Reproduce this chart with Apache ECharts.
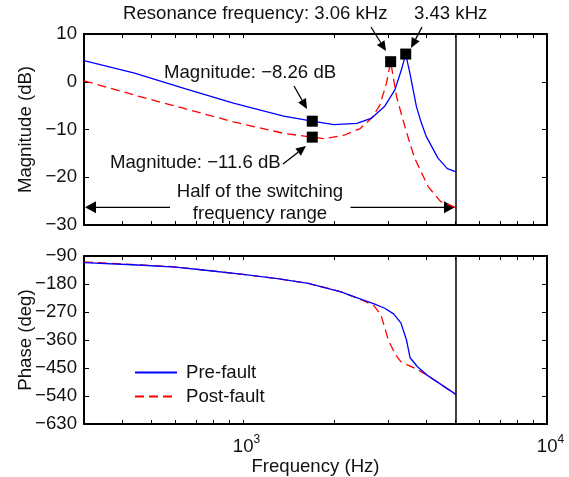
<!DOCTYPE html>
<html>
<head>
<meta charset="utf-8">
<script src="https://cdn.jsdelivr.net/npm/echarts@6/dist/echarts.min.js"></script>
<style>
html,body{margin:0;padding:0;background:#fff;}
#chart{width:569px;height:477px;}
</style>
</head>
<body>
<div id="chart"></div>
<script>
// ---------- data ----------
const freqPreMag  = [300, 440, 640, 930, 1360, 1690, 1990, 2370, 2650, 2920, 3160, 3320, 3430, 3540, 3720, 3860, 4010, 4380, 4700, 5000];
const magPre      = [4.4, 1.8, -1.4, -4.5, -7.2, -8.26, -9.0, -8.7, -7.6, -5.2, -1.7, 2.5, 5.8, 1.8, -5.2, -8.6, -11.5, -16.0, -18.2, -18.8];
const freqPostMag = [300, 440, 640, 930, 1360, 1690, 1850, 2150, 2430, 2650, 2820, 2965, 3060, 3200, 3360, 3540, 3670, 4070, 4470, 5000];
const magPost     = [0.2, -2.8, -5.6, -8.4, -10.8, -11.6, -11.9, -11.2, -9.8, -7.6, -4.9, -0.3, 4.2, -3.1, -8.0, -12.9, -16.0, -22.0, -25.1, -26.3];

const freqPrePhase  = [300, 450, 600, 740, 1000, 1300, 1640, 2100, 2480, 2700, 2925, 3130, 3310, 3450, 3545, 3750, 4020, 5000];
const phasePre      = [-111, -119, -126, -135, -149, -163, -178, -205, -231, -244, -258, -276, -306, -360, -417, -446, -472, -534];
const freqPostPhase = [300, 450, 600, 740, 1000, 1300, 1640, 2100, 2480, 2700, 2845, 3006, 3178, 3310, 3750, 4020, 5000];
const phasePost     = [-109, -118, -125, -135, -149, -163, -178, -205, -233, -250, -280, -360, -408, -430, -455, -472, -534];

const markerFreq = [1690, 1690, 3060, 3430];
const markerMag  = [-8.26, -11.6, 4.2, 5.8];

const seriesNames = ['Pre-fault', 'Post-fault'];
const xTickValues  = [400, 500, 600, 700, 800, 900, 1000, 2000, 3000, 4000, 5000, 6000, 7000, 8000, 9000, 10000];
const xLabelValues = [1000, 10000];
const halfSwitchFreq = 5000;

// ---------- helpers ----------
const FONT = '"Liberation Sans", Arial, Helvetica, sans-serif';
const FS = 18.6;
const TXT = '#111';
const pairs = (xs, ys) => xs.map((x, i) => [x, ys[i]]);
const minus = v => String(v).replace('-', '\u2212');

function arrow(x1, y1, x2, y2, L, W) {
  L = L || 10; W = W || 4.5;
  const dx = x2 - x1, dy = y2 - y1, len = Math.hypot(dx, dy);
  const ux = dx / len, uy = dy / len;
  const bx = x2 - ux * L, by = y2 - uy * L;
  const px = -uy, py = ux;
  return [
    {type: 'line', silent: true, shape: {x1: x1, y1: y1, x2: bx, y2: by}, style: {stroke: '#000', lineWidth: 1.3}},
    {type: 'polygon', silent: true, shape: {points: [[x2, y2], [bx + px * W, by + py * W], [bx - px * W, by - py * W]]}, style: {fill: '#000'}}
  ];
}
function txt(s, x, y, align) {
  return {type: 'text', silent: true, style: {text: s, x: x, y: y, fontSize: FS, fontFamily: FONT, fill: TXT, align: align || 'left', verticalAlign: 'middle'}};
}

const grids = [
  {left: 84, right: 22, top: 34, height: 191},
  {left: 84, right: 22, top: 256, height: 168}
];

function xAx(gridIndex, position, showLabels) {
  return {
    type: 'log', logBase: 10, gridIndex: gridIndex, position: position,
    min: 300, max: 10000,
    axisLine: {show: true, onZero: false, lineStyle: {color: '#000', width: 2}},
    axisTick: {show: true, inside: true, length: 4, customValues: xTickValues, lineStyle: {color: '#000', width: 1}},
    axisLabel: {
      show: showLabels, customValues: xLabelValues, margin: 10,
      formatter: v => '{b|10}{s|' + Math.round(Math.log10(v)) + '}',
      rich: {
        b: {fontSize: FS, fontFamily: FONT, color: TXT, lineHeight: 22, verticalAlign: 'bottom', padding: [0, 0, 0, 7]},
        s: {fontSize: 12, fontFamily: FONT, color: TXT, lineHeight: 12, verticalAlign: 'top'}
      }
    },
    splitLine: {show: false},
    name: showLabels ? 'Frequency (Hz)' : '', nameLocation: 'middle', nameGap: 33,
    nameMoveOverlap: false,
    nameTextStyle: {fontSize: FS, fontFamily: FONT, color: TXT}
  };
}
function yAx(gridIndex, position, min, max, interval, name) {
  const left = position === 'left';
  return {
    type: 'value', gridIndex: gridIndex, position: position,
    min: min, max: max, interval: interval,
    axisLine: {show: true, onZero: false, lineStyle: {color: '#000', width: 2}},
    axisTick: {show: true, inside: true, length: 5, lineStyle: {color: '#000', width: 1}},
    axisLabel: {show: left, margin: 7, fontSize: FS, fontFamily: FONT, color: TXT, formatter: minus},
    splitLine: {show: false},
    name: left ? name : '', nameLocation: 'middle', nameGap: 49,
    nameMoveOverlap: false,
    nameTextStyle: {fontSize: FS, fontFamily: FONT, color: TXT}
  };
}

const vLine = {
  silent: true, symbol: ['none', 'none'], label: {show: false},
  lineStyle: {color: '#000', width: 1.5, type: 'solid'},
  data: [{xAxis: halfSwitchFreq}]
};

const lineStyles = [
  {color: '#0000ff', width: 1.3, type: 'solid'},
  {color: '#ff0000', width: 1.3, type: [9, 5]}
];

const option = {
  animation: false,
  backgroundColor: '#fff',
  grid: grids,
  xAxis: [xAx(0, 'bottom', false), xAx(0, 'top', false), xAx(1, 'bottom', true), xAx(1, 'top', false)],
  yAxis: [
    yAx(0, 'left', -30, 10, 10, 'Magnitude (dB)'),
    yAx(0, 'right', -30, 10, 10, ''),
    yAx(1, 'left', -630, -90, 90, 'Phase (deg)'),
    yAx(1, 'right', -630, -90, 90, '')
  ],
  legend: {
    data: seriesNames, orient: 'vertical', left: 134, top: 363, padding: 0,
    itemWidth: 42, itemHeight: 20, itemGap: 5,
    itemStyle: {color: 'rgba(0,0,0,0)', borderWidth: 0, opacity: 0},
    textStyle: {fontSize: FS, fontFamily: FONT, color: TXT, padding: [0, 0, 0, 4]},
    selectedMode: false
  },
  series: [
    {name: seriesNames[0], type: 'line', xAxisIndex: 0, yAxisIndex: 0, symbol: 'none', data: pairs(freqPreMag, magPre), lineStyle: lineStyles[0], itemStyle: {color: '#0000ff'}, markLine: vLine, z: 3},
    {name: seriesNames[1], type: 'line', xAxisIndex: 0, yAxisIndex: 0, symbol: 'none', data: pairs(freqPostMag, magPost), lineStyle: lineStyles[1], itemStyle: {color: '#ff0000'}, z: 2},
    {name: 'markers', type: 'scatter', xAxisIndex: 0, yAxisIndex: 0, symbol: 'rect', symbolSize: 11, data: pairs(markerFreq, markerMag), itemStyle: {color: '#000', opacity: 1}, z: 5, silent: true},
    {name: seriesNames[0], type: 'line', xAxisIndex: 2, yAxisIndex: 2, symbol: 'none', data: pairs(freqPrePhase, phasePre), lineStyle: lineStyles[0], itemStyle: {color: '#0000ff'}, markLine: vLine, z: 3},
    {name: seriesNames[1], type: 'line', xAxisIndex: 2, yAxisIndex: 2, symbol: 'none', data: pairs(freqPostPhase, phasePost), lineStyle: lineStyles[1], itemStyle: {color: '#ff0000'}, z: 2}
  ],
  graphic: [].concat(
    [txt('Resonance frequency: 3.06 kHz', 123, 14), txt('3.43 kHz', 414, 14),
     txt('Magnitude: \u22128.26 dB', 164, 73), txt('Magnitude: \u221211.6 dB', 110, 163),
     txt('Half of the switching', 260, 192, 'center'), txt('frequency range', 260, 214, 'center')],
    arrow(371, 27, 386, 51), arrow(422, 27, 411, 48),
    arrow(294, 86, 307, 109), arrow(283, 164, 306, 146),
    arrow(170, 207.3, 85, 207.3, 11, 6), arrow(350.5, 207.3, 455, 207.3, 11, 6)
  )
};

const chart = echarts.init(document.getElementById('chart'), null, {renderer: 'canvas'});
chart.setOption(option);
</script>
</body>
</html>
